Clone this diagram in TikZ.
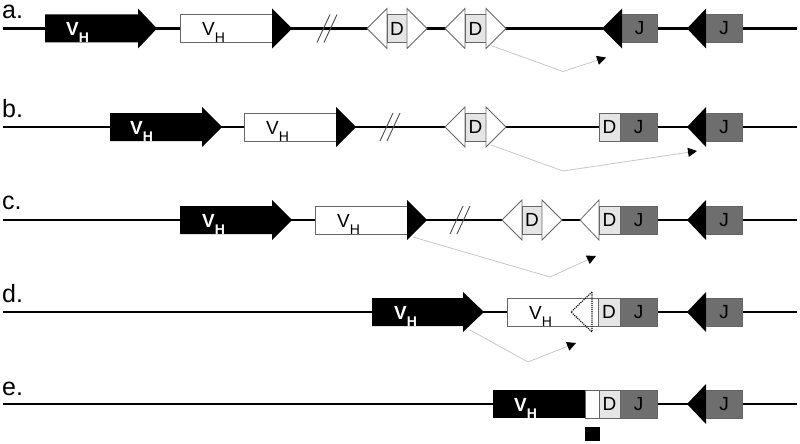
\documentclass[tikz,border=0pt]{standalone}
\usepackage{fontspec}
\setmainfont{Liberation Sans}
\usetikzlibrary{arrows.meta}
\newcommand{\vh}{V\raisebox{-7.5pt}{\fontsize{14pt}{14pt}\selectfont H}}

\begin{document}
\begin{tikzpicture}[x=1pt,y=-1pt,
    dna/.style={line width=2.6pt, black},
    seg/.style={draw=black!60, line width=0.8pt},
    rowlab/.style={anchor=base west, inner sep=0pt, font=\fontsize{25pt}{25pt}\selectfont},
    vlab/.style={anchor=base west, inner sep=0pt, font=\fontsize{19pt}{19pt}\selectfont},
    vbold/.style={vlab, text=white, font=\fontsize{19pt}{19pt}\selectfont\bfseries},
    dbox/.style={seg, fill=black!10, minimum height=28pt, inner sep=0pt, font=\fontsize{19pt}{19pt}\selectfont},
    jbox/.style={dbox, fill=black!57},
    rsswhite/.style={seg, fill=white},
    cut/.style={black!70, line width=0.9pt},
    recomb/.style={black!22, line width=0.8pt, -{Triangle[black, length=9pt, width=9pt]}}]
  \useasboundingbox (0,0) rectangle (800,444);

  %fila a
  \begin{scope}[shift={(0,28.5)}]
    \node[rowlab] (la) at (2,-10) {a.};
    \draw[dna] (3,0) -- (797,0);
    \fill (45,-14) -- (138,-14) -- (138,-20) -- (157,0) -- (138,20) -- (138,14) -- (45,14) -- cycle;
    \node[vbold] (vA1) at (66,7) {\vh};
    \draw[seg, fill=white] (180,-14) rectangle (272,14);
    \node[vlab] (vA2) at (202,7) {\vh};
    \fill (272,-20) -- (292,0) -- (272,20) -- cycle;
    \draw[cut] (317,14) -- (330,-14) (324,14) -- (337,-14);
    %segmentos D
    \draw[rsswhite] (387,-20) -- (367,0) -- (387,20) -- cycle;
    \node[dbox, minimum width=20pt] (dA1) at (397,0) {D};
    \draw[rsswhite] (407,-20) -- (427,0) -- (407,20) -- cycle;
    \draw[rsswhite] (465,-20) -- (445,0) -- (465,20) -- cycle;
    \node[dbox, minimum width=21pt] (dA2) at (475.5,0) {D};
    \draw[rsswhite] (486,-20) -- (506,0) -- (486,20) -- cycle;
    %segmentos J
    \fill (602,0) -- (622,-20) -- (622,20) -- cycle;
    \node[jbox, minimum width=35pt] (jA1) at (639.5,0) {J};
    \fill (687,0) -- (706,-20) -- (706,20) -- cycle;
    \node[jbox, minimum width=36pt] (jA2) at (724,0) {J};
    %recombinacion
    \coordinate (rA0) at (491,17);
    \coordinate (rA1) at (563,43);
    \coordinate (rA2) at (606,29);
    \draw[recomb] (rA0) -- (rA1) -- (rA2);
  \end{scope}

  %fila b
  \begin{scope}[shift={(0,127)}]
    \node[rowlab] (lb) at (2,-10) {b.};
    \draw[dna] (3,0) -- (797,0);
    \fill (110,-14) -- (202,-14) -- (202,-20) -- (222,0) -- (202,20) -- (202,14) -- (110,14) -- cycle;
    \node[vbold] (vB1) at (130,7) {\vh};
    \draw[seg, fill=white] (244,-14) rectangle (336,14);
    \node[vlab] (vB2) at (266,7) {\vh};
    \fill (336,-20) -- (356,0) -- (336,20) -- cycle;
    \draw[cut] (380,14) -- (393,-14) (387,14) -- (400,-14);
    \draw[rsswhite] (465,-20) -- (445,0) -- (465,20) -- cycle;
    \node[dbox, minimum width=21pt] (dB1) at (475.5,0) {D};
    \draw[rsswhite] (486,-20) -- (506,0) -- (486,20) -- cycle;
    \node[dbox, minimum width=21pt] (dB2) at (609.5,0) {D};
    \node[jbox, minimum width=37pt] (jB1) at (638.5,0) {J};
    \fill (687,0) -- (706,-20) -- (706,20) -- cycle;
    \node[jbox, minimum width=36pt] (jB2) at (724,0) {J};
    \coordinate (rB0) at (491,18);
    \coordinate (rB1) at (563,44);
    \coordinate (rB2) at (697,24);
    \draw[recomb] (rB0) -- (rB1) -- (rB2);
  \end{scope}

  %fila c
  \begin{scope}[shift={(0,220)}]
    \node[rowlab] (lc) at (2,-11) {c.};
    \draw[dna] (3,0) -- (797,0);
    \fill (180,-14) -- (272,-14) -- (272,-20) -- (292,0) -- (272,20) -- (272,14) -- (180,14) -- cycle;
    \node[vbold] (vC1) at (202,7) {\vh};
    \draw[seg, fill=white] (315,-14) rectangle (407,14);
    \node[vlab] (vC2) at (337,7) {\vh};
    \fill (407,-20) -- (427,0) -- (407,20) -- cycle;
    \draw[cut] (450,14) -- (463,-14) (457,14) -- (470,-14);
    \draw[rsswhite] (522,-20) -- (502,0) -- (522,20) -- cycle;
    \node[dbox, minimum width=20pt] (dC1) at (532,0) {D};
    \draw[rsswhite] (542,-20) -- (562,0) -- (542,20) -- cycle;
    \draw[rsswhite] (599,-20) -- (580,0) -- (599,20) -- cycle;
    \node[dbox, minimum width=21pt] (dC2) at (609.5,0) {D};
    \node[jbox, minimum width=37pt] (jC1) at (638.5,0) {J};
    \fill (687,0) -- (706,-20) -- (706,20) -- cycle;
    \node[jbox, minimum width=36pt] (jC2) at (724,0) {J};
    \coordinate (rC0) at (413,17);
    \coordinate (rC1) at (550,57);
    \coordinate (rC2) at (596,36);
    \draw[recomb] (rC0) -- (rC1) -- (rC2);
  \end{scope}

  %fila d
  \begin{scope}[shift={(0,312)}]
    \node[rowlab] (ld) at (2,-10) {d.};
    \draw[dna] (3,0) -- (797,0);
    \fill (372,-14) -- (463,-14) -- (463,-20) -- (484,0) -- (463,20) -- (463,14) -- (372,14) -- cycle;
    \node[vbold] (vD1) at (394,7) {\vh};
    \draw[seg, fill=white] (507,-14) rectangle (598,14);
    \node[vlab] (vD2) at (529,7) {\vh};
    \draw[densely dotted, line width=1.1pt] (592,-20) -- (571,0) -- (592,20) -- cycle;
    \node[dbox, minimum width=22pt] (dD1) at (609,0) {D};
    \node[jbox, minimum width=37pt] (jD1) at (638.5,0) {J};
    \fill (687,0) -- (706,-20) -- (706,20) -- cycle;
    \node[jbox, minimum width=36pt] (jD2) at (724,0) {J};
    \coordinate (rD0) at (470,18);
    \coordinate (rD1) at (528,50);
    \coordinate (rD2) at (576,31);
    \draw[recomb] (rD0) -- (rD1) -- (rD2);
  \end{scope}

  %fila e
  \begin{scope}[shift={(0,404)}]
    \node[rowlab] (le) at (2,-9) {e.};
    \draw[dna] (3,0) -- (797,0);
    \fill (493,-14) rectangle (585,14);
    \node[vbold] (vE1) at (514,7) {\vh};
    \draw[seg, fill=white] (585,-14) rectangle (599,14);
    \node[dbox, minimum width=21pt] (dE1) at (609.5,0) {D};
    \node[jbox, minimum width=37pt] (jE1) at (638.5,0) {J};
    \fill (687,0) -- (706,-20) -- (706,20) -- cycle;
    \node[jbox, minimum width=36pt] (jE2) at (724,0) {J};
    \fill (585,23) rectangle (600,37);
  \end{scope}
\end{tikzpicture}
\end{document}
